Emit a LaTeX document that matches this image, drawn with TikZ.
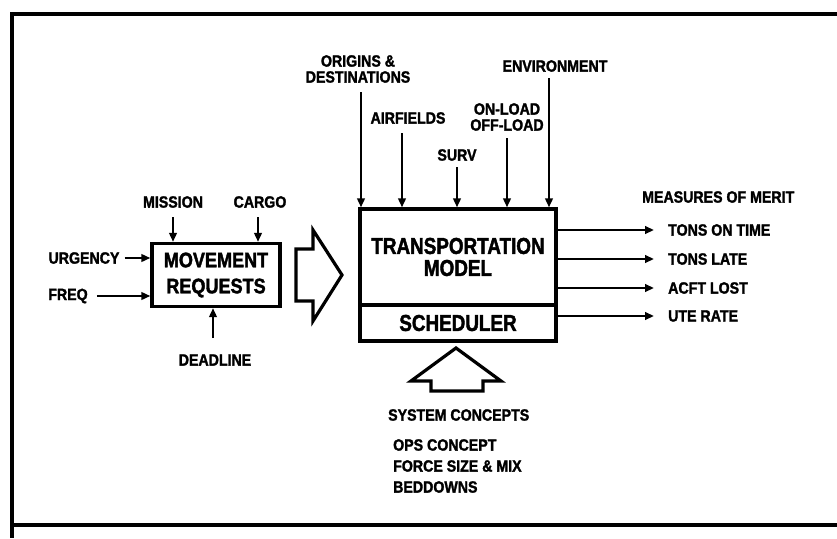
\documentclass[tikz,border=0pt]{standalone}
\usepackage{fontspec}
\setmainfont{Liberation Sans}[BoldFeatures={FakeBold=1.6}]
\newfontfamily\condfont{Liberation Sans}[FakeStretch=0.82, BoldFeatures={FakeBold=1.8}]
\newfontfamily\condfontb{Liberation Sans}[FakeStretch=0.86, BoldFeatures={FakeBold=1.8}]
\newfontfamily\condfontc{Liberation Sans}[FakeStretch=0.87, BoldFeatures={FakeBold=1.7}]
\usetikzlibrary{arrows.meta}
\tikzset{
  lbl/.style={font=\condfontc\bfseries\fontsize{16.3}{16}\selectfont, inner sep=0pt, align=center},
  big/.style={font=\condfont\bfseries\fontsize{23}{22}\selectfont, align=center, inner sep=0pt},
  mid/.style={font=\condfontb\bfseries\fontsize{21}{26}\selectfont, align=center, inner sep=0pt},
  boxst/.style={draw, line width=3.2pt},
  arr/.style={line width=2.6pt, -{Triangle[length=9pt,width=7.5pt]}},
  hollow/.style={draw, line width=3.2pt, line join=miter},
  frame/.style={line width=3.2pt}
}
\begin{document}
\begin{tikzpicture}[x=1pt,y=-1pt]
\useasboundingbox (0,0) rectangle (837,538);
% frame
\draw[frame] (837,14) -- (12,14) -- (12,538);
\draw[frame] (12,525) -- (837,525);

% main model
\node[boxst, big, minimum width=196pt, minimum height=96pt] (tm) at (458,257) {TRANSPORTATION\\MODEL};
\node[boxst, big, minimum width=196pt, minimum height=36pt] (sch) at (458,323) {SCHEDULER};

% top inputs
\node[lbl] (orig) at (358,69) {ORIGINS \&\\DESTINATIONS};
\node[lbl] (airf) at (408,118) {AIRFIELDS};
\node[lbl] (surv) at (457,155) {SURV};
\node[lbl] (onl) at (507,117) {ON-LOAD\\OFF-LOAD};
\node[lbl] (env) at (555,66) {ENVIRONMENT};
\coordinate (s1) at (361,92);
\coordinate (s2) at (402,133);
\coordinate (s3) at (457,167);
\coordinate (s4) at (507,138);
\coordinate (s5) at (549,78);
\foreach \s in {s1,s2,s3,s4,s5}
  \draw[arr] (\s) -- (\s |- tm.north);

% movement requests
\node[boxst, mid, minimum width=128pt, minimum height=63pt] (mr) at (216,275) {MOVEMENT\\REQUESTS};
\node[lbl] (mis) at (173,202) {MISSION};
\node[lbl] (car) at (260,202) {CARGO};
\coordinate (m1) at (173,217);
\coordinate (c1) at (258,217);
\draw[arr] (m1) -- (m1 |- mr.north);
\draw[arr] (c1) -- (c1 |- mr.north);
\node[lbl] (urg) at (84,258) {URGENCY};
\node[lbl] (frq) at (68,296) {FREQ};
\draw[arr] ([xshift=5pt]urg.east) -- (urg.east -| mr.west);
\draw[arr] ([xshift=9pt]frq.east) -- (frq.east -| mr.west);
\node[lbl] (ddl) at (215,360) {DEADLINE};
\coordinate (d1) at (213,338);
\draw[arr] (d1) -- (d1 |- mr.south);

% big hollow arrow to the right
\draw[hollow] (296,249) -- (313,249) -- (313,230) -- (342,275) -- (313,321) -- (313,301) -- (296,301) -- cycle;

% outputs
\node[lbl, anchor=west] (mom) at (642,197) {MEASURES OF MERIT};
\node[lbl, anchor=west] (o1) at (668,230) {TONS ON TIME};
\node[lbl, anchor=west] (o2) at (668,259) {TONS LATE};
\node[lbl, anchor=west] (o3) at (668,288) {ACFT LOST};
\node[lbl, anchor=west] (o4) at (668,316) {UTE RATE};
\draw[arr] (tm.east |- o1.west) -- ([xshift=-14pt]o1.west);
\draw[arr] (tm.east |- o2.west) -- ([xshift=-14pt]o2.west);
\draw[arr] (tm.east |- o3.west) -- ([xshift=-14pt]o3.west);
\draw[arr] (sch.east |- o4.west) -- ([xshift=-14pt]o4.west);

% up hollow arrow
\draw[hollow] (456,348) -- (501,381) -- (483,381) -- (483,391) -- (431,391) -- (431,381) -- (411,381) -- cycle;

% system concepts
\node[lbl, anchor=west] (sc) at (388,415) {SYSTEM CONCEPTS};
\node[lbl, anchor=west] (ops) at (393,445) {OPS CONCEPT};
\node[lbl, anchor=west] (fsm) at (393,466) {FORCE SIZE \& MIX};
\node[lbl, anchor=west] (bed) at (393,487) {BEDDOWNS};
\end{tikzpicture}
\end{document}
